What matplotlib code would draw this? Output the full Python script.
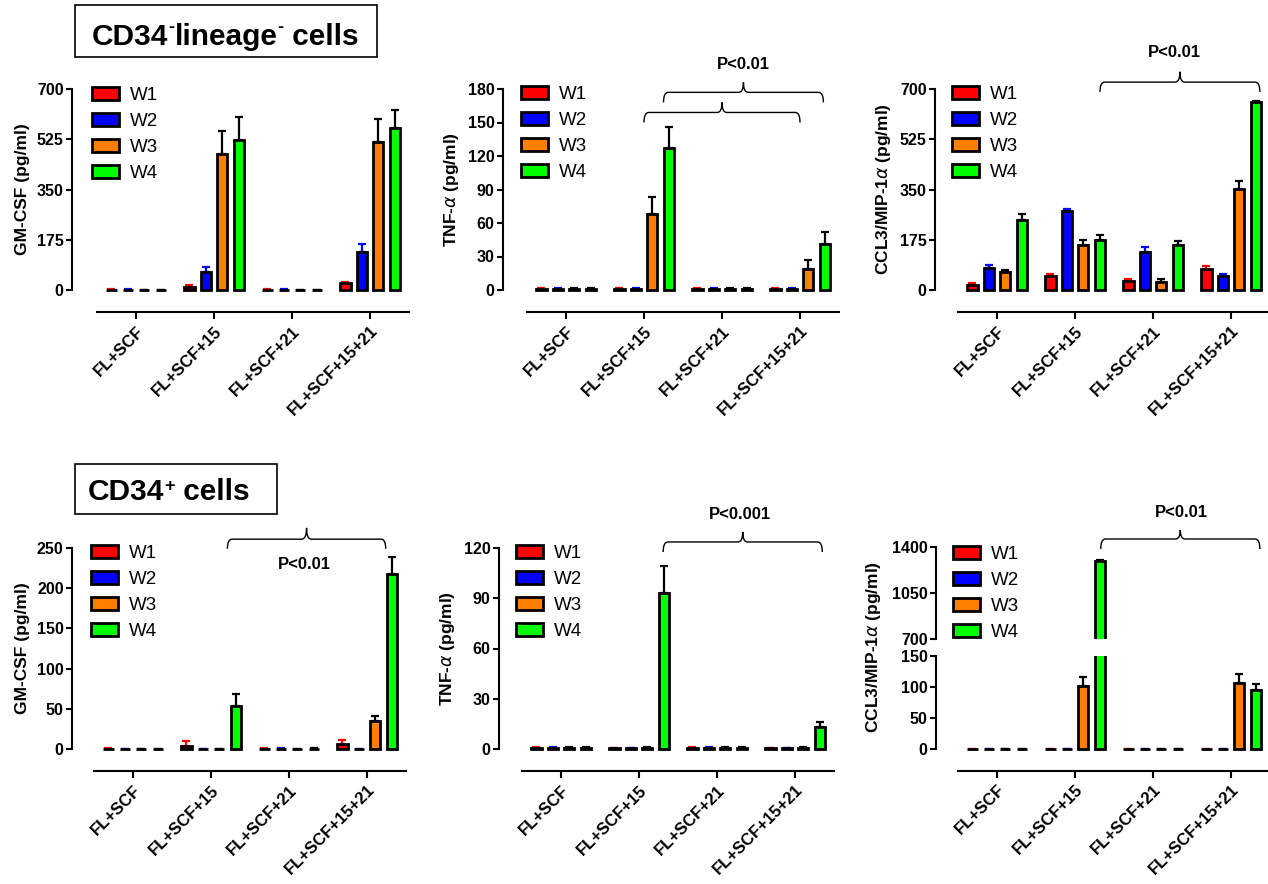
import numpy as np
import matplotlib.pyplot as plt
from matplotlib.path import Path
from matplotlib.patches import PathPatch, Rectangle

plt.rcParams['font.family'] = ['Liberation Sans', 'DejaVu Sans']

categories = ["FL+SCF", "FL+SCF+15", "FL+SCF+21", "FL+SCF+15+21"]
weeks = ["W1", "W2", "W3", "W4"]
colors = ["#ff0000", "#0000ff", "#ff8000", "#00ff00"]
err_colors = ["#ff0000", "#0000ff", "black", "black"]

# CD34- lineage- cells, GM-CSF
gm_neg = [[1, 12, 1, 23], [1, 62, 1, 131], [0, 473, 0, 517], [0, 522, 0, 563]]
gm_neg_err = [[1, 4, 1, 4], [1, 19, 1, 28], [0, 79, 0, 78], [0, 80, 0, 64]]
# CD34- lineage- cells, TNF-a
tnf_neg = [[1, 1, 1, 1], [1, 1, 1, 1], [1, 68, 1, 19], [1, 127, 1, 41]]
tnf_neg_err = [[0.5, 0.5, 0.5, 0.5], [0.5, 0.5, 0.5, 0.5], [0.5, 15, 0.5, 7.5], [0.5, 19, 0.5, 11]]
# CD34- lineage- cells, CCL3
ccl_neg = [[17, 49, 33, 72], [78, 276, 133, 49], [64, 155, 29, 352], [244, 174, 158, 656]]
ccl_neg_err = [[6, 7, 5, 13], [9, 5, 18, 7], [6, 19, 8, 26], [21, 16, 12, 3]]
# CD34+ cells, GM-CSF
gm_pos = [[0.5, 4, 0.5, 6], [0.3, 0, 0.5, 0], [0, 0, 0, 35], [0, 54, 0.5, 218]]
gm_pos_err = [[0.5, 6, 0.5, 5], [0.3, 0, 1, 0], [0, 0, 0, 6], [0, 15, 0.5, 21]]
# CD34+ cells, TNF-a
tnf_pos = [[0.5, 0.5, 0.5, 0.5], [0.5, 0.5, 0.5, 0.5], [0.5, 0.5, 0.5, 0.5], [0.5, 93, 0.5, 13.4]]
tnf_pos_err = [[0.8, 0.3, 0.8, 0.3], [0.8, 0.3, 0.8, 0.3], [0.5, 0.5, 0.5, 0.5], [0.5, 16, 0.5, 2.5]]
# CD34+ cells, CCL3
ccl_pos = [[0, 0, 0, 0], [0, 0, 0, 0], [0, 102, 0, 107], [0, 1291, 0, 95]]
ccl_pos_err = [[0, 0, 0, 0], [0, 0, 0, 0], [0, 14, 0, 14], [0, 13, 0, 10]]

W, H = 1268, 884
fig = plt.figure(figsize=(W / 100, H / 100), dpi=100)

pitch = 0.21
bar_w = 0.13
x = np.arange(len(categories))


def fx(px):
    return px / W


def fy(py):
    return 1 - py / H


def bars(ax, vals, errs, clip=False):
    for i in range(4):
        xs = x + (i - 1.5) * pitch
        ax.errorbar(xs, vals[i], yerr=[np.zeros(4), errs[i]], fmt='none',
                    ecolor=err_colors[i], elinewidth=1.6, capsize=2.6,
                    capthick=1.6, zorder=1, clip_on=clip)
        ax.bar(xs, vals[i], bar_w, color=colors[i], edgecolor='black',
               linewidth=2.0, label=weeks[i], zorder=2, clip_on=clip)


def style(ax, yoff, bottom=True, boff=16):
    for s in ['top', 'right']:
        ax.spines[s].set_visible(False)
    ax.spines['left'].set_position(('outward', yoff * 0.72))
    ax.spines['left'].set_linewidth(1.5)
    ax.set_xlim(-0.5, 3.5)
    ax.tick_params(axis='y', length=4, width=1.5, labelsize=11.5, pad=2)
    for t in ax.get_yticklabels():
        t.set_fontweight('bold')
    if bottom:
        ax.spines['bottom'].set_position(('outward', boff))
        ax.spines['bottom'].set_linewidth(1.5)
        ax.set_xticks(x)
        ax.set_xticklabels(categories, rotation=45, ha='right',
                           rotation_mode='anchor', fontsize=12,
                           fontweight='bold')
        ax.tick_params(axis='x', length=5, width=1.5, pad=3)
    else:
        ax.spines['bottom'].set_visible(False)
        ax.set_xticks([])


def brace(ax, x0, x1, yb, yh, yt, r=0.06):
    xm = (x0 + x1) / 2
    verts = [(x0, yb), (x0, yh), (x0 + r, yh), (xm - r, yh), (xm, yh),
             (xm, yt), (xm, yh), (xm + r, yh), (x1 - r, yh), (x1, yh),
             (x1, yb)]
    codes = [Path.MOVETO, Path.CURVE3, Path.CURVE3, Path.LINETO,
             Path.CURVE3, Path.CURVE3, Path.CURVE3, Path.CURVE3,
             Path.LINETO, Path.CURVE3, Path.CURVE3]
    ax.add_patch(PathPatch(Path(verts, codes), fill=False, lw=1.0,
                           clip_on=False))


def ptext(ax, xv, yv, s):
    ax.text(xv, yv, s, ha='center', va='center', fontsize=12,
            fontweight='bold')


def legend(ax, px, py):
    ax.legend(loc='upper left', bbox_to_anchor=(fx(px), fy(py)),
              bbox_transform=fig.transFigure, frameon=False, fontsize=13.5,
              borderpad=0, borderaxespad=0, handlelength=1.44,
              handleheight=0.7, handletextpad=0.6, labelspacing=0.47)


def label(ax, text):
    ax.set_ylabel(text, fontsize=12.5, fontweight='bold', labelpad=5)


# ---- top row ----
row_b, row_h = fy(290), 201 / H
ax1 = fig.add_axes([fx(97), row_b, 312 / W, row_h])
bars(ax1, gm_neg, gm_neg_err)
ax1.set_ylim(0, 700)
ax1.set_yticks([0, 175, 350, 525, 700])
style(ax1, 25)
label(ax1, "GM-CSF (pg/ml)")
legend(ax1, 92, 87)

ax2 = fig.add_axes([fx(527), row_b, 312 / W, row_h])
bars(ax2, tnf_neg, tnf_neg_err)
ax2.set_ylim(0, 180)
ax2.set_yticks([0, 30, 60, 90, 120, 150, 180])
style(ax2, 24)
label(ax2, r"TNF-$\alpha$ (pg/ml)")
legend(ax2, 521, 86)
brace(ax2, 1.25, 3.3, 168, 177, 186)
brace(ax2, 1.0, 3.0, 150, 159, 168)
ptext(ax2, 2.27, 202, "P<0.01")

ax3 = fig.add_axes([fx(958), row_b, 312 / W, row_h])
bars(ax3, ccl_neg, ccl_neg_err)
ax3.set_ylim(0, 700)
ax3.set_yticks([0, 175, 350, 525, 700])
style(ax3, 23)
label(ax3, r"CCL3/MIP-1$\alpha$ (pg/ml)")
legend(ax3, 952, 86)
brace(ax3, 1.32, 3.37, 690, 724, 760)
ptext(ax3, 2.28, 826, "P<0.01")

# ---- bottom row ----
row_b = fy(749)
ax4 = fig.add_axes([fx(94), row_b, 312 / W, row_h])
bars(ax4, gm_pos, gm_pos_err)
ax4.set_ylim(0, 250)
ax4.set_yticks([0, 50, 100, 150, 200, 250])
style(ax4, 22)
label(ax4, "GM-CSF (pg/ml)")
legend(ax4, 91, 545)
brace(ax4, 1.21, 3.24, 249, 261, 275)
ptext(ax4, 2.2, 229, "P<0.01")

ax5 = fig.add_axes([fx(522), row_b, 312 / W, row_h])
bars(ax5, tnf_pos, tnf_pos_err)
ax5.set_ylim(0, 120)
ax5.set_yticks([0, 30, 60, 90, 120])
style(ax5, 23)
label(ax5, r"TNF-$\alpha$ (pg/ml)")
legend(ax5, 516, 545)
brace(ax5, 1.31, 3.35, 117.6, 123.6, 129.6)
ptext(ax5, 2.3, 140, "P<0.001")

# broken axis panel: lower part 0-150, upper part 700-1400
ax6 = fig.add_axes([fx(958), fy(753), 312 / W, 97 / H])
bars(ax6, ccl_pos, ccl_pos_err, clip=True)
ax6.set_ylim(-6, 150)
ax6.set_yticks([0, 50, 100, 150])
style(ax6, 22, boff=13)
ax6.spines['left'].set_bounds(0, 150)

ax7 = fig.add_axes([fx(958), fy(639), 312 / W, 92 / H])
bars(ax7, ccl_pos, ccl_pos_err, clip=True)
ax7.set_ylim(700, 1400)
ax7.set_yticks([700, 1050, 1400])
style(ax7, 22, bottom=False)
legend(ax7, 953, 546)
brace(ax7, 1.33, 3.37, 1385, 1461, 1529)
ptext(ax7, 2.37, 1666, "P<0.01")
fig.text(fx(873), fy(647), r"CCL3/MIP-1$\alpha$ (pg/ml)", rotation=90,
         ha='center', va='center', fontsize=12.5, fontweight='bold')

for a in [ax1, ax2, ax3, ax4, ax5]:
    a.spines['left'].set_bounds(a.get_ylim())

# title boxes with small raised superscripts
renderer = fig.canvas.get_renderer()


def rich(px, base_py, pieces):
    xc = fx(px)
    for s, size, dy in pieces:
        t = fig.text(xc, fy(base_py) + dy / H, s, fontsize=size,
                     fontweight='bold', va='baseline')
        xc += t.get_window_extent(renderer).width / W


fig.add_artist(Rectangle((fx(75), fy(57)), 302 / W, 52 / H, fill=False,
                         lw=1.2, transform=fig.transFigure))
rich(92, 45, [("CD34", 21.5, 0), ("-", 13, 13), ("lineage", 21.5, 0),
              ("-", 13, 13), (" cells", 21.5, 0)])
fig.add_artist(Rectangle((fx(75), fy(514)), 202 / W, 50 / H, fill=False,
                         lw=1.2, transform=fig.transFigure))
rich(88, 500, [("CD34", 21.5, 0), ("+", 13, 9), (" cells", 21.5, 0)])

fig.savefig("out.png", dpi=100)
